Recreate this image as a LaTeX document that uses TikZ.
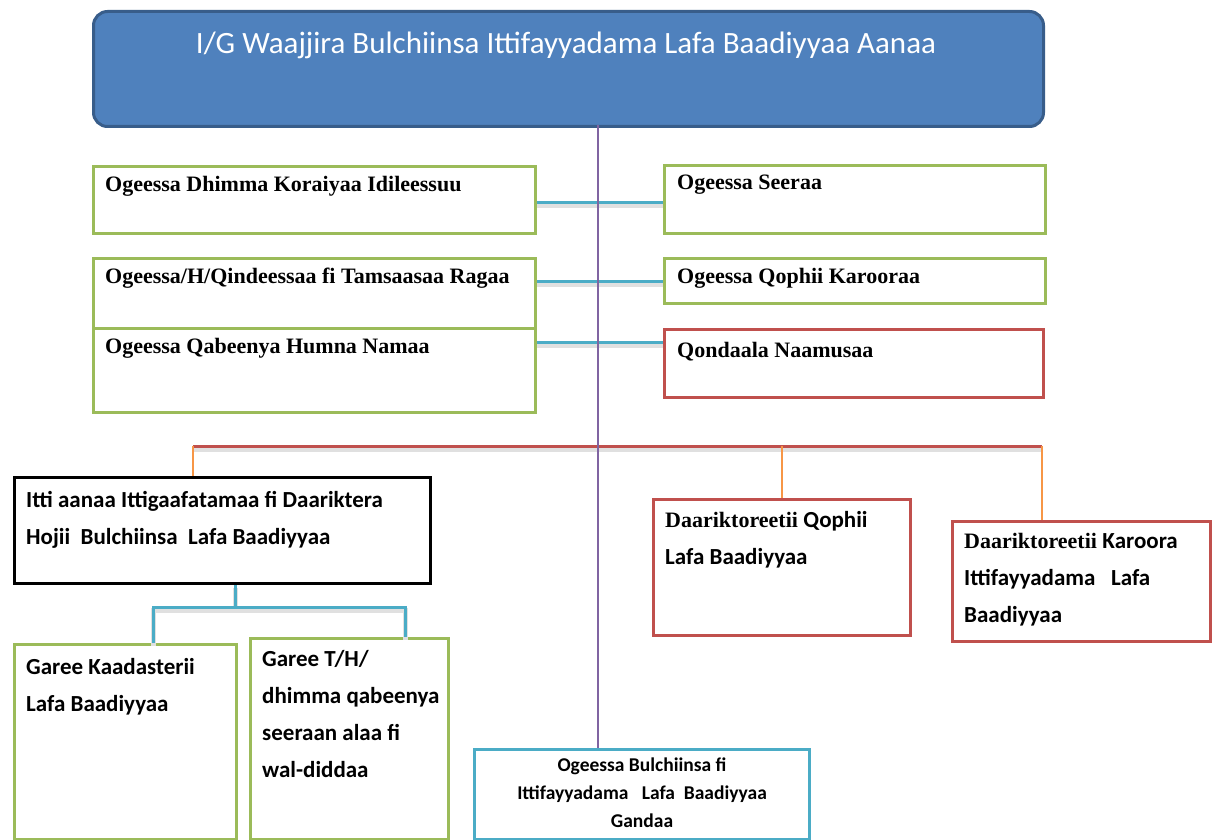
\documentclass[tikz,border=0pt]{standalone}
\usepackage{fontspec}
\setmainfont{Liberation Serif}
\newfontfamily\calfont{Carlito}
\definecolor{topblue}{HTML}{4F81BD}
\definecolor{topedge}{HTML}{385D8A}
\definecolor{leafgreen}{HTML}{9BBB59}
\definecolor{brickred}{HTML}{C0504D}
\definecolor{aqua}{HTML}{4BACC6}
\definecolor{lilac}{HTML}{8064A2}
\definecolor{tangerine}{HTML}{F79646}

\begin{document}
\begin{tikzpicture}
[x=1pt, y=-1pt, every node/.style={inner sep=0pt},
 box/.style={rectangle, line width=3pt, anchor=north west},
 greenbox/.style={box, draw=leafgreen},
 redbox/.style={box, draw=brickred},
 serif/.style={anchor=north west, align=left, font=\fontsize{22}{37}\selectfont\bfseries},
 sans/.style={anchor=north west, align=left, font=\calfont\bfseries\fontsize{23}{37}\selectfont},
 shade/.style={preaction={draw=black!12, line width=5pt, transform canvas={yshift=-3pt}}},
 aqualine/.style={draw=aqua, line width=3pt, shade},
 redline/.style={draw=brickred, line width=3pt, shade},
 orangeline/.style={draw=tangerine, line width=2pt}]
\useasboundingbox (0,0) rectangle (1212,840);

% top office
\node (waajjira) [box, rounded corners=14pt, fill=topblue, draw=topedge, minimum width=950pt, minimum height=115pt] at (92,10) {};
\node (waajjiratxt) [font=\calfont\fontsize{31}{36}\selectfont, text=white] at (566,45) {I/G Waajjira Bulchiinsa Ittifayyadama Lafa Baadiyyaa Aanaa};

% staff offices
\node (dhimma) [greenbox, minimum width=442pt, minimum height=67pt] at (92,165) {};
\node (qindeessaa) [greenbox, minimum width=442pt, minimum height=70pt] at (92,257) {};
\node (humna) [greenbox, minimum width=442pt, minimum height=84pt] at (92,327) {};
\node (seeraa) [greenbox, minimum width=381pt, minimum height=68pt] at (663,164) {};
\node (qophii) [greenbox, minimum width=381pt, minimum height=45pt] at (663,257) {};
\node (naamusaa) [redbox, minimum width=379pt, minimum height=68pt] at (663,328) {};
\node [serif] at ([shift={(13,11)}]dhimma.north west) {Ogeessa Dhimma Koraiyaa Idileessuu};
\node [serif] at ([shift={(13,11)}]qindeessaa.north west) {Ogeessa/H/Qindeessaa fi Tamsaasaa Ragaa};
\node [serif] at ([shift={(13,11)}]humna.north west) {Ogeessa Qabeenya Humna Namaa};
\node [serif] at ([shift={(14,11)}]seeraa.north west) {Ogeessa Seeraa};
\node [serif] at ([shift={(14,11)}]qophii.north west) {Ogeessa Qophii Karooraa};
\node [serif] at ([shift={(14,14)}]naamusaa.north west) {Qondaala Naamusaa};

% directorates
\node (ittiaanaa) [box, draw=black, minimum width=416pt, minimum height=106pt] at (13,476) {};
\node (qophiiD) [redbox, minimum width=257pt, minimum height=136pt] at (652,498) {};
\node (karoora) [redbox, minimum width=258pt, minimum height=120pt] at (951,520) {};
\node [sans] at ([shift={(13,15)}]ittiaanaa.north west) {Itti aanaa Ittigaafatamaa fi Daariktera\\Hojii\ \ Bulchiinsa\ \ Lafa Baadiyyaa};
\node [serif] at ([shift={(13,13)}]qophiiD.north west) {Daariktoreetii {\calfont\fontsize{23}{37}\selectfont Qophii}\\{\calfont\fontsize{23}{37}\selectfont Lafa Baadiyyaa}};
\node [serif] at ([shift={(13,13)}]karoora.north west) {Daariktoreetii {\calfont\fontsize{23}{37}\selectfont Karoora}\\{\calfont\fontsize{23}{37}\selectfont Ittifayyadama\ \ \ Lafa}\\{\calfont\fontsize{23}{37}\selectfont Baadiyyaa}};

% teams
\node (kaadasterii) [greenbox, minimum width=222pt, minimum height=195pt] at (13,643) {};
\node (waldiddaa) [greenbox, minimum width=198pt, minimum height=201pt] at (249,637) {};
\node (gandaa) [box, draw=aqua, minimum width=335pt, minimum height=90pt] at (473,748) {};
\node [sans] at ([shift={(13,15)}]kaadasterii.north west) {Garee Kaadasterii\\Lafa Baadiyyaa};
\node [sans] at ([shift={(13,13)}]waldiddaa.north west) {Garee T/H/\\dhimma qabeenya\\seeraan alaa fi\\wal-diddaa};
\node [align=center, font=\calfont\bfseries\fontsize{19.5}{28}\selectfont] at ([yshift=-45pt]gandaa.north) {Ogeessa Bulchiinsa fi\\Ittifayyadama\ \ \ Lafa\ \ Baadiyyaa\\Gandaa};

% connectors
\coordinate (trunk) at (598,125);
\coordinate (busL) at (193,446);
\coordinate (busR) at (1042,446);
\coordinate (fork) at (235,607);
\coordinate (forkL) at (153,607);
\coordinate (forkR) at (405,607);
\draw [aqualine] ([yshift=-2pt]dhimma.east) -- ([yshift=-2pt]dhimma.east -| seeraa.west);
\draw [aqualine] (qindeessaa.east |- qophii.west) -- (qophii.west);
\draw [aqualine] ([yshift=-15pt]humna.north east) -- ([yshift=-15pt]humna.north east -| naamusaa.west);
\draw [redline] (busL) -- (busR);
\draw [orangeline] (busL) -- (busL |- ittiaanaa.north);
\draw [orangeline] (qophiiD.north |- busL) -- (qophiiD.north);
\draw [orangeline] (busR) -- (busR |- karoora.north);
\draw [aqualine] (fork |- ittiaanaa.south) -- (fork);
\draw [aqualine] (forkL |- kaadasterii.north) -- (forkL) -- (forkR) -- (forkR |- waldiddaa.north);
\draw [draw=lilac, line width=2pt] (trunk) -- (trunk |- gandaa.north);

\end{tikzpicture}
\end{document}
